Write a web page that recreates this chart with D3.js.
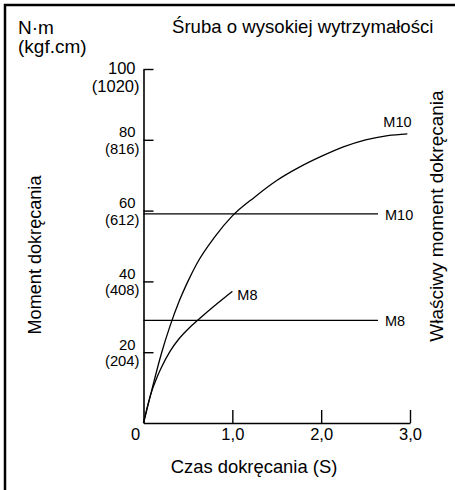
<!DOCTYPE html>
<html>
<head>
<meta charset="utf-8">
<script src="https://cdn.jsdelivr.net/npm/d3@7"></script>
<style>
  html, body { margin: 0; padding: 0; background: #fff; }
  svg text { font-family: "Liberation Sans", Arial, sans-serif; fill: #000; }
</style>
</head>
<body>
<div id="chart"></div>
<script>
'use strict';

// tightening time (s) and torque (N·m)
var m10Time = [0, 0.1, 0.2, 0.3, 0.4, 0.5, 0.6, 0.8, 1.0, 1.25, 1.5, 1.75, 2.0, 2.25, 2.5, 2.75, 2.97];
var m10Torque = [0, 10, 19.5, 27.5, 34.3, 40, 45, 52.5, 58.5, 63.8, 68.5, 72.2, 75.3, 78, 80, 81.2, 81.7];
var m8Time = [0, 0.03, 0.06, 0.1, 0.15, 0.2, 0.3, 0.4, 0.5, 0.6, 0.7, 0.8, 0.9, 1.0];
var m8Torque = [0, 3.2, 6.2, 9.5, 12.8, 15.6, 20.3, 23.8, 26.5, 28.8, 31, 33.1, 35.2, 37.2];

// proper torque levels (horizontal lines)
var properNames = ['M10', 'M8'];
var properTorque = [59.1, 29.0];
var properEnd = 2.64;

var yTicks = [20, 40, 60, 80, 100];
var yTicksKgf = ['(204)', '(408)', '(612)', '(816)', '(1020)'];
var xTicks = [1, 2, 3];

var width = 455, height = 490;

var svg = d3.select('#chart').append('svg')
  .attr('width', width)
  .attr('height', height);

svg.append('rect').attr('width', width).attr('height', height).attr('fill', '#fff');

// frame (left + top)
svg.append('path')
  .attr('d', 'M5,' + height + 'V5H' + width)
  .attr('fill', 'none')
  .attr('stroke', '#000')
  .attr('stroke-width', 2.5);

var x = d3.scaleLinear().domain([0, 3]).range([143.5, 410]);
var y = d3.scaleLinear().domain([0, 100]).range([423, 69]);

// x axis, ticks pointing up
var xAxis = svg.append('g')
  .attr('transform', 'translate(0,' + y(0) + ')')
  .call(d3.axisBottom(x).tickValues(xTicks).tickSize(-13).tickSizeOuter(0)
    .tickFormat(function (d) { return d3.format('.1f')(d).replace('.', ','); }));
xAxis.select('.domain').attr('stroke-width', 1.6);
xAxis.selectAll('.tick line').attr('stroke-width', 1.4);
xAxis.selectAll('.tick text')
  .attr('y', 5)
  .attr('dy', '0.71em')
  .style('font-size', '16.5px');

svg.append('text')
  .attr('x', x(0) - 8)
  .attr('y', y(0) + 5)
  .attr('dy', '0.71em')
  .attr('text-anchor', 'middle')
  .style('font-size', '16.5px')
  .text('0');

// y axis, ticks pointing right
var yAxis = svg.append('g')
  .attr('transform', 'translate(' + x(0) + ',0)')
  .call(d3.axisRight(y).tickValues(yTicks).tickSize(10).tickSizeOuter(0).tickFormat(''));
yAxis.select('.domain').attr('stroke-width', 1.6);
yAxis.selectAll('.tick line').attr('stroke-width', 1.4);

// two-line tick labels: N·m above, kgf.cm below
var yLabels = svg.append('g').attr('text-anchor', 'end');
yTicks.forEach(function (v, i) {
  var big = v === 100;
  yLabels.append('text')
    .attr('x', x(0) - 8)
    .attr('y', y(v) + (big ? 5 : -2.5))
    .style('font-size', big ? '16.5px' : '14.8px')
    .text(v);
  yLabels.append('text')
    .attr('x', x(0) - 4)
    .attr('y', y(v) + (big ? 23 : 14))
    .style('font-size', big ? '16.5px' : '14.8px')
    .text(yTicksKgf[i]);
});

// proper torque lines
properTorque.forEach(function (v, i) {
  svg.append('line')
    .attr('x1', x(0)).attr('x2', x(properEnd))
    .attr('y1', y(v)).attr('y2', y(v))
    .attr('stroke', '#000')
    .attr('stroke-width', 1.3);
  svg.append('text')
    .attr('x', x(properEnd) + 7)
    .attr('y', y(v) + 6)
    .style('font-size', '14.5px')
    .text(properNames[i]);
});

// torque curves
var line = d3.line()
  .x(function (d) { return x(d[0]); })
  .y(function (d) { return y(d[1]); })
  .curve(d3.curveMonotoneX);

var curves = [
  { name: 'M10', pts: d3.zip(m10Time, m10Torque), dx: -24, dy: -7 },
  { name: 'M8', pts: d3.zip(m8Time, m8Torque), dx: 5, dy: 9 }
];

curves.forEach(function (c) {
  svg.append('path')
    .attr('d', line(c.pts))
    .attr('fill', 'none')
    .attr('stroke', '#000')
    .attr('stroke-width', 1.3);
  var last = c.pts[c.pts.length - 1];
  svg.append('text')
    .attr('x', x(last[0]) + c.dx)
    .attr('y', y(last[1]) + c.dy)
    .style('font-size', '14.5px')
    .text(c.name);
});

// titles
svg.append('text').attr('x', 18).attr('y', 34).style('font-size', '19px').text('N·m');
svg.append('text').attr('x', 18).attr('y', 53).style('font-size', '19px').text('(kgf.cm)');
svg.append('text').attr('x', 172).attr('y', 33).style('font-size', '18.6px').text('Śruba o wysokiej wytrzymałości');

svg.append('text')
  .attr('x', 254)
  .attr('y', 473)
  .attr('text-anchor', 'middle')
  .style('font-size', '18.4px')
  .text('Czas dokręcania (S)');

svg.append('text')
  .attr('transform', 'translate(41,255) rotate(-90)')
  .attr('text-anchor', 'middle')
  .style('font-size', '18.1px')
  .text('Moment dokręcania');

svg.append('text')
  .attr('transform', 'translate(443,216) rotate(-90)')
  .attr('text-anchor', 'middle')
  .style('font-size', '19px')
  .text('Właściwy moment dokręcania');
</script>
</body>
</html>
